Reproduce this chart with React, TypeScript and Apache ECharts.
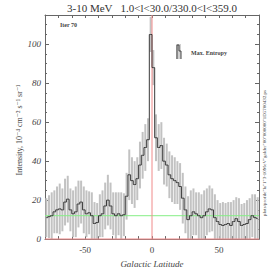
import React, { useEffect, useRef } from "react";
import * as echarts from "echarts";

const latitudes = [
  -79, -77, -75, -73, -71, -69, -67, -65, -63, -61, -59, -57, -55, -53, -51, -49, -47, -45, -43, -41,
  -39, -37, -35, -33, -31, -29, -27, -25, -23, -21, -19, -17, -15, -13, -11, -9, -7, -5, -3, -1,
  1, 3, 5, 7, 9, 11, 13, 15, 17, 19, 21, 23, 25, 27, 29, 31, 33, 35, 37, 39,
  41, 43, 45, 47, 49, 51, 53, 55, 57, 59, 61, 63, 65, 67, 69, 71, 73, 75, 77, 79,
];
const intensity = [
  11, 11.5, 12, 14, 15, 15.5, 15, 19, 20.5, 15, 13, 14, 18, 19, 15, 13, 13.5, 12, 8, 8.5,
  12, 13, 17, 20, 17, 13, 12, 13, 12, 12.5, 22, 33, 30, 28, 31, 38, 43, 47, 51, 105,
  88, 52, 47, 48, 40, 38, 33, 31, 30, 29, 27, 21, 15, 10, 12, 14, 13, 12, 11, 12,
  14, 15.5, 15, 11, 9, 7.5, 7, 7.5, 8, 7, 9, 10.5, 9, 7, 7.5, 8, 10, 12, 11, 10.5,
];
const errors = [
  10, 11, 12, 11, 12, 13, 11, 12, 12, 11, 12, 13, 12, 11, 12, 12, 11, 12, 11, 10,
  11, 12, 12, 13, 12, 11, 12, 11, 12, 11, 12, 13, 12, 12, 11, 12, 12, 12, 11, 9,
  9, 12, 12, 12, 12, 11, 12, 12, 12, 11, 12, 13, 12, 12, 13, 12, 11, 12, 12, 13,
  12, 12, 11, 12, 11, 11, 12, 11, 11, 12, 11, 11, 12, 11, 11, 12, 11, 11, 12, 11,
];
const backgroundLevel = 12;
const xRange = [-80, 80];
const yRange = [0, 115];
const xTickLabels = [-50, 0, 50];
const yTickLabels = [0, 20, 40, 60, 80, 100];

const titleText = "3-10 MeV   1.0<l<30.0/330.0<l<359.0";
const yName = "Intensity, 10⁻⁴ cm⁻² s⁻¹ sr⁻¹";
const xName = "Galactic Latitude";
const iterText = "Iter 70";
const legendText = "Max. Entropy";
const fileText = 'plots/profile"la"1"3-10MeV"galder"00"000000"1D5700432.ps';

const serif = "'Liberation Serif', 'DejaVu Serif', serif";

export default function App() {
  const ref = useRef<HTMLDivElement>(null);
  useEffect(() => {
    const chart = echarts.init(ref.current!, null, { renderer: "svg" });
    const errData = latitudes.map((l, i) => [
      l,
      Math.max(yRange[0], intensity[i] - errors[i]),
      Math.min(yRange[1], intensity[i] + errors[i]),
    ]);
    const lineData = latitudes.map((l, i) => [l, intensity[i]]);
    const axisCommon = {
      type: "value" as const,
      axisLine: { show: true, onZero: false, lineStyle: { color: "#666", width: 1 } },
      splitLine: { show: false },
    };
    chart.setOption({
      animation: false,
      grid: { left: 45, right: 14, top: 15, bottom: 29 },
      xAxis: [
        {
          ...axisCommon,
          min: xRange[0],
          max: xRange[1],
          interval: 10,
          position: "bottom",
          axisTick: { show: true, inside: true, length: 3, lineStyle: { color: "#666" } },
          axisLabel: {
            formatter: (v: number) => (xTickLabels.includes(v) ? String(v) : ""),
            fontFamily: serif,
            fontSize: 9,
            color: "#444",
            margin: 6,
          },
          name: xName,
          nameLocation: "middle",
          nameGap: 17,
          nameTextStyle: { fontFamily: serif, fontStyle: "italic", fontSize: 9, color: "#444" },
        },
        {
          ...axisCommon,
          min: xRange[0],
          max: xRange[1],
          interval: 10,
          position: "top",
          axisTick: { show: true, inside: true, length: 3, lineStyle: { color: "#666" } },
          axisLabel: { show: false },
        },
      ],
      yAxis: [
        {
          ...axisCommon,
          min: yRange[0],
          max: yRange[1],
          interval: 20,
          position: "left",
          axisTick: { show: true, inside: true, length: 4, lineStyle: { color: "#666" } },
          minorTick: { show: true, splitNumber: 4, length: 2, lineStyle: { color: "#666" } },
          axisLabel: {
            formatter: (v: number) => (yTickLabels.includes(v) ? String(v) : ""),
            showMaxLabel: false,
            fontFamily: serif,
            fontStyle: "italic",
            fontSize: 9,
            color: "#444",
            margin: 4,
          },
        },
        {
          ...axisCommon,
          min: yRange[0],
          max: yRange[1],
          interval: 20,
          position: "right",
          axisTick: { show: true, inside: true, length: 4, lineStyle: { color: "#666" } },
          minorTick: { show: true, splitNumber: 4, length: 2, lineStyle: { color: "#666" } },
          axisLabel: { show: false },
        },
      ],
      series: [
        {
          type: "custom",
          xAxisIndex: 0,
          yAxisIndex: 0,
          data: errData,
          encode: { x: 0, y: [1, 2] },
          renderItem: (params: any, api: any) => {
            const x = api.value(0);
            const p1 = api.coord([x, api.value(2)]);
            const p2 = api.coord([x, api.value(1)]);
            return {
              type: "rect",
              shape: { x: p1[0] - 1, y: p1[1], width: 2, height: p2[1] - p1[1] },
              style: { fill: "#c2c2c2" },
            };
          },
          z: 1,
        },
        {
          type: "line",
          data: [[xRange[0], backgroundLevel], [xRange[1], backgroundLevel]],
          symbol: "none",
          lineStyle: { color: "#86ee86", width: 1 },
          z: 2,
        },
        {
          type: "line",
          data: [[0, yRange[0]], [0, yRange[1]]],
          symbol: "none",
          lineStyle: { color: "#f08a8a", width: 1 },
          z: 2,
        },
        {
          type: "line",
          data: [[xRange[0], 0], [xRange[1], 0]],
          symbol: "none",
          lineStyle: { color: "#f08a8a", width: 1.2 },
          z: 2,
        },
        {
          type: "line",
          step: "middle",
          data: lineData,
          symbol: "none",
          lineStyle: { color: "#3a3a3a", width: 1 },
          z: 3,
        },
      ],
      graphic: [
        {
          type: "text",
          x: 152,
          y: 8,
          style: {
            text: titleText,
            fontFamily: serif,
            fontSize: 11,
            fill: "#333",
            textAlign: "center",
            textVerticalAlign: "middle",
          },
        },
        {
          type: "text",
          x: 60,
          y: 25,
          style: {
            text: iterText,
            fontFamily: serif,
            fontSize: 6,
            fontWeight: "bold",
            fill: "#444",
            textVerticalAlign: "middle",
          },
        },
        {
          type: "rect",
          shape: { x: 176, y: 44, width: 5, height: 15 },
          style: { fill: "#d0d0d0" },
        },
        {
          type: "polyline",
          shape: { points: [[177, 59], [177, 45], [179, 45], [179, 51], [181, 51], [181, 59]] },
          style: { stroke: "#444", lineWidth: 1, fill: "none" },
        },
        {
          type: "text",
          x: 191,
          y: 53,
          style: {
            text: legendText,
            fontFamily: serif,
            fontSize: 6,
            fontWeight: "bold",
            fill: "#444",
            textVerticalAlign: "middle",
          },
        },
        {
          type: "text",
          x: 19,
          y: 130,
          rotation: Math.PI / 2,
          style: {
            text: yName,
            fontFamily: serif,
            fontSize: 8,
            fill: "#444",
            textAlign: "center",
            textVerticalAlign: "middle",
          },
        },
        {
          type: "text",
          x: 264,
          y: 153,
          rotation: Math.PI / 2,
          style: {
            text: fileText,
            fontFamily: serif,
            fontSize: 5,
            fill: "#444",
            textAlign: "center",
            textVerticalAlign: "middle",
          },
        },
      ],
    });
    return () => chart.dispose();
  }, []);
  return (
    <div
      ref={ref}
      style={{ position: "fixed", left: 0, top: 0, width: 273, height: 273, background: "#fff" }}
    />
  );
}
